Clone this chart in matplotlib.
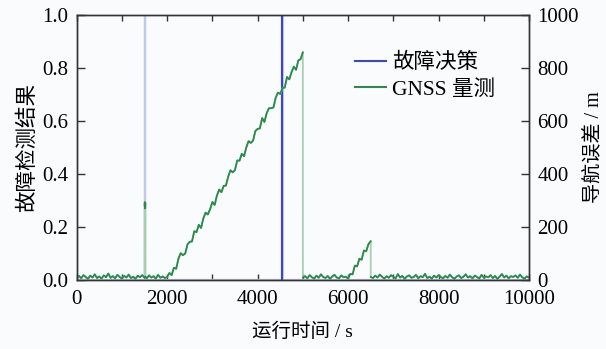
import numpy as np
import matplotlib
matplotlib.use("Agg")
import matplotlib.pyplot as plt
from matplotlib.ticker import MultipleLocator

plt.rcParams['font.family'] = ['Liberation Serif', 'Noto Sans CJK SC']
plt.rcParams['axes.unicode_minus'] = False

# ---- fault decision (0 = normal, 1 = fault) ----
decision_t = [0, 1500, 1500, 1503, 1503, 4540, 4540, 4560, 4560, 10000]
decision_v = [0, 0, 1, 1, 0, 0, 1, 1, 0, 0]

# ---- GNSS measurement navigation error (m), by segment ----
err_base_a = [9, 15, 6, 18, 11, 4, 16, 9, 21, 7, 13, 5, 17, 10, 24, 8, 14, 6, 19, 11,
              5, 15, 9, 20, 7, 12, 4, 16, 10, 18, 8]                      # 0 .. 1500 s
err_pulse_t = [1501, 1507, 1513, 1519]
err_pulse = [283, 294, 270, 288]                                           # pulse fault
err_base_b = [12, 6, 17, 9, 14, 5, 19, 8, 13, 7, 11]                       # 1520 .. 2000 s
err_ramp_a = [26, 18, 46, 42, 80, 101, 93, 100, 134, 144, 145, 184, 180, 208, 196, 232,
              254, 247, 267, 294, 283, 318, 341, 331, 355, 356, 390, 414, 406, 415, 451,
              450, 476, 467, 500, 524, 517, 526, 562, 570, 572, 611, 596, 629, 648, 648,
              651, 688, 707, 702, 724, 726, 766, 757, 784, 805, 793, 829, 833, 859]  # 2050 .. 5000 s
err_base_c = [9, 14, 6, 18, 10, 5, 16, 8, 21, 11, 7, 15, 4, 13, 19, 9, 6, 17, 10, 12, 5]  # 5001 .. 6000 s
err_ramp_b = [23, 21, 54, 51, 80, 76, 111, 108, 135, 146]                  # 6050 .. 6500 s
err_base_d = [11, 7, 16, 9, 20, 12, 5, 14, 8, 18, 11, 6, 22, 9, 15, 4, 13, 17, 8, 11, 19,
              6, 14, 10, 23, 7, 12, 5, 16, 9, 18, 11, 6, 15, 8, 20, 10, 4, 13, 17, 7,
              12, 21, 9, 14, 6, 16, 11, 5, 19, 8, 13, 10, 18, 7, 15, 4, 12, 22, 9, 16,
              6, 14, 11, 17, 8, 20, 10, 5, 13, 9]                           # 6501 .. 10000 s

gnss_t = np.concatenate([
    np.arange(0, 1501, 50),
    err_pulse_t,
    [1520], np.arange(1550, 2001, 50),
    np.arange(2050, 5001, 50),
    [5001], np.arange(5050, 6001, 50),
    np.arange(6050, 6501, 50),
    [6501], np.arange(6550, 10001, 50),
]).astype(float)
gnss_err = np.concatenate([err_base_a, err_pulse, err_base_b, err_ramp_a,
                           err_base_c, err_ramp_b, err_base_d]).astype(float)

x_ticks = [0, 2000, 4000, 6000, 8000, 10000]
left_ticks = [0.0, 0.2, 0.4, 0.6, 0.8, 1.0]
right_ticks = [0, 200, 400, 600, 800, 1000]


def split_at_jumps(t, y, limit):
    """Insert gaps where consecutive samples jump by more than `limit`."""
    t = np.asarray(t, float)
    y = np.asarray(y, float)
    cut = np.where(np.abs(np.diff(y)) > limit)[0] + 1
    return np.insert(t, cut, np.nan), np.insert(y, cut, np.nan)


bg = '#fafbfc'
fig = plt.figure(figsize=(6.06, 3.49), dpi=100, facecolor=bg)
ax = fig.add_axes([0.1265, 0.198, 0.7465, 0.759], facecolor=bg)
ax2 = ax.twinx()

blue = '#3c45c2'
blue_pale = '#c3c8ea'
green = '#2b8a4c'
green_pale = '#a9cfb2'

# decision: faint full trace, sustained alarms emphasised
ax.plot(decision_t, decision_v, color=blue_pale, lw=1.6)
dt = np.asarray(decision_t, float)
dv = np.asarray(decision_v, float)
for i in range(0, len(dt) - 3):
    if dv[i] == 0 and dv[i + 1] == 1 and dv[i + 2] == 1 and dv[i + 3] == 0 \
            and dt[i + 2] - dt[i + 1] >= 10:
        ax.plot(dt[i + 1:i + 3].mean().repeat(2), [0, 1], color=blue, lw=1.5)
l1, = ax.plot([], [], color=blue, lw=1.5)

# GNSS error: faint jumps, solid continuous stretches
ax2.plot(gnss_t, gnss_err, color=green_pale, lw=1.3)
ts, es = split_at_jumps(gnss_t, gnss_err, 100)
ax2.plot(ts, es, color=green, lw=1.3)
l2, = ax2.plot([], [], color=green, lw=1.5)

ax.set_xlim(0, 10000)
ax.set_ylim(0, 1.0)
ax2.set_ylim(0, 1000)

ax.set_xticks(x_ticks)
ax.xaxis.set_minor_locator(MultipleLocator(1000))
ax.set_yticks(left_ticks)
ax.set_yticklabels([f'{v:.1f}' for v in left_ticks])
ax2.set_yticks(right_ticks)

tick_fs = 15
ax.tick_params(axis='x', which='both', direction='in', top=True, length=4, width=1,
               labelsize=tick_fs, pad=7, color='#333333')
ax.tick_params(axis='y', which='both', direction='in', length=6, width=1,
               labelsize=tick_fs, pad=6, color='#333333')
ax2.tick_params(axis='y', direction='in', length=6, width=1, labelsize=tick_fs, pad=6,
                color='#333333')

for a in (ax, ax2):
    for s in a.spines.values():
        s.set_color('#333333')
        s.set_linewidth(1.0)

ax.set_xlabel('运行时间 / s', fontsize=14, labelpad=10)
ax.set_ylabel('故障检测结果', fontsize=15.5, labelpad=3)
ax2.set_ylabel('导航误差 / m', fontsize=14.5, labelpad=5)

leg = ax2.legend([l1, l2], ['故障决策', 'GNSS 量测'], loc='upper left',
                 bbox_to_anchor=(0.583, 0.914), frameon=False, fontsize=15.5,
                 handlelength=1.4, handletextpad=0.3, labelspacing=0.3,
                 borderpad=0.2)

fig.savefig('out.png', dpi=100, facecolor=bg)
